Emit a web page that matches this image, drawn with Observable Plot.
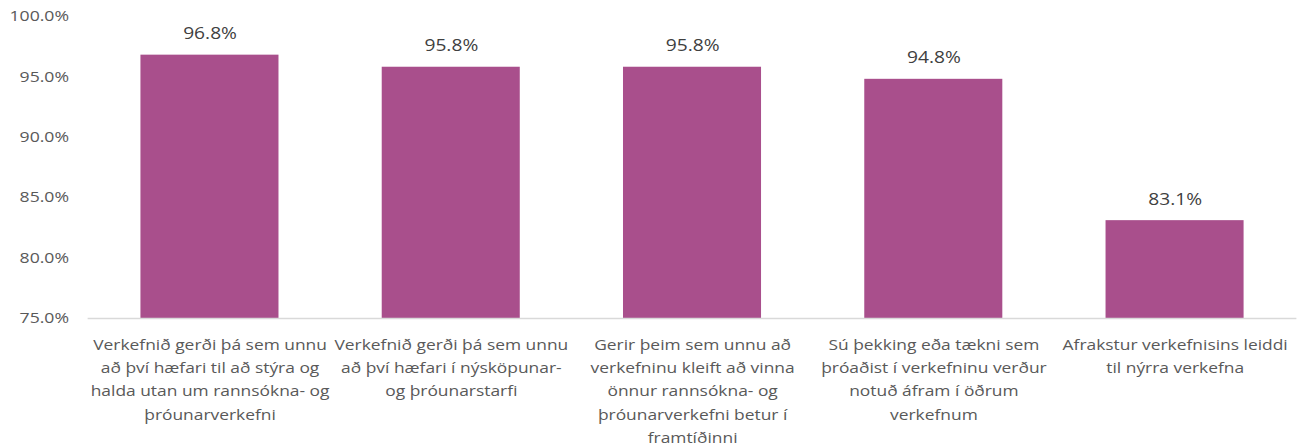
<!DOCTYPE html>
<html>
<head>
<meta charset="utf-8">
<script src="https://cdn.jsdelivr.net/npm/d3@7"></script>
<script src="https://cdn.jsdelivr.net/npm/@observablehq/plot@0.6"></script>
<style>
  html, body { margin: 0; padding: 0; background: #fff; }
  #chart svg { display: block; }
</style>
</head>
<body>
<div id="chart"></div>
<script>
const categories = [
  "Verkefnið gerði þá sem unnu\nað því hæfari til að stýra og\nhalda utan um rannsókna- og\nþróunarverkefni",
  "Verkefnið gerði þá sem unnu\nað því hæfari í nýsköpunar-\nog þróunarstarfi",
  "Gerir þeim sem unnu að\nverkefninu kleift að vinna\nönnur rannsókna- og\nþróunarverkefni betur í\nframtíðinni",
  "Sú þekking eða tækni sem\nþróaðist í verkefninu verður\nnotuð áfram í öðrum\nverkefnum",
  "Afrakstur verkefnisins leiddi\ntil nýrra verkefna"
];
const values = [96.8, 95.8, 95.8, 94.8, 83.1];
const yTicks = [75, 80, 85, 90, 95, 100];
const yDomain = [75, 100];

const data = categories.map((c, i) => ({cat: c, value: values[i]}));
const fmt = d => d.toFixed(1) + "%";

// The reference is horizontally stretched; draw in a narrower viewBox and stretch to 1300px.
const stretch = 1.2;
const W = 1300, H = 448;
const vw = Math.round(W / stretch);

const chart = Plot.plot({
  width: vw,
  height: H,
  marginLeft: Math.round(87 / stretch),
  marginRight: 3,
  marginTop: 16,
  marginBottom: 130,
  style: {fontFamily: "'Open Sans', sans-serif", fontSize: "14.5px", color: "#595959", background: "#fff"},
  x: {domain: categories, paddingInner: 0.43, paddingOuter: 0.215, axis: null},
  y: {domain: yDomain, axis: null},
  marks: [
    Plot.barY(data, {x: "cat", y1: () => yDomain[0], y2: "value", fill: "#A94F8C"}),
    Plot.ruleY([yDomain[0]], {stroke: "#d9d9d9", strokeWidth: 1.3}),
    Plot.axisY({ticks: yTicks, tickFormat: fmt, tickSize: 0, tickPadding: 16, fontSize: 14.7, fill: "#595959", label: null}),
    Plot.axisX({tickSize: 0, tickPadding: 15, fontSize: 14.5, fill: "#595959", lineHeight: 1.6, label: null, textAnchor: "middle", lineAnchor: "top"}),
    Plot.text(data, {x: "cat", y: "value", text: d => fmt(d.value), dy: -21, fontSize: 16, fill: "#404040"})
  ]
});
chart.setAttribute("viewBox", `0 0 ${vw} ${H}`);
chart.setAttribute("width", W);
chart.setAttribute("height", H);
chart.setAttribute("preserveAspectRatio", "none");
chart.style.width = W + "px";
chart.style.height = H + "px";
chart.style.maxWidth = "none";
document.getElementById("chart").appendChild(chart);
</script>
</body>
</html>
